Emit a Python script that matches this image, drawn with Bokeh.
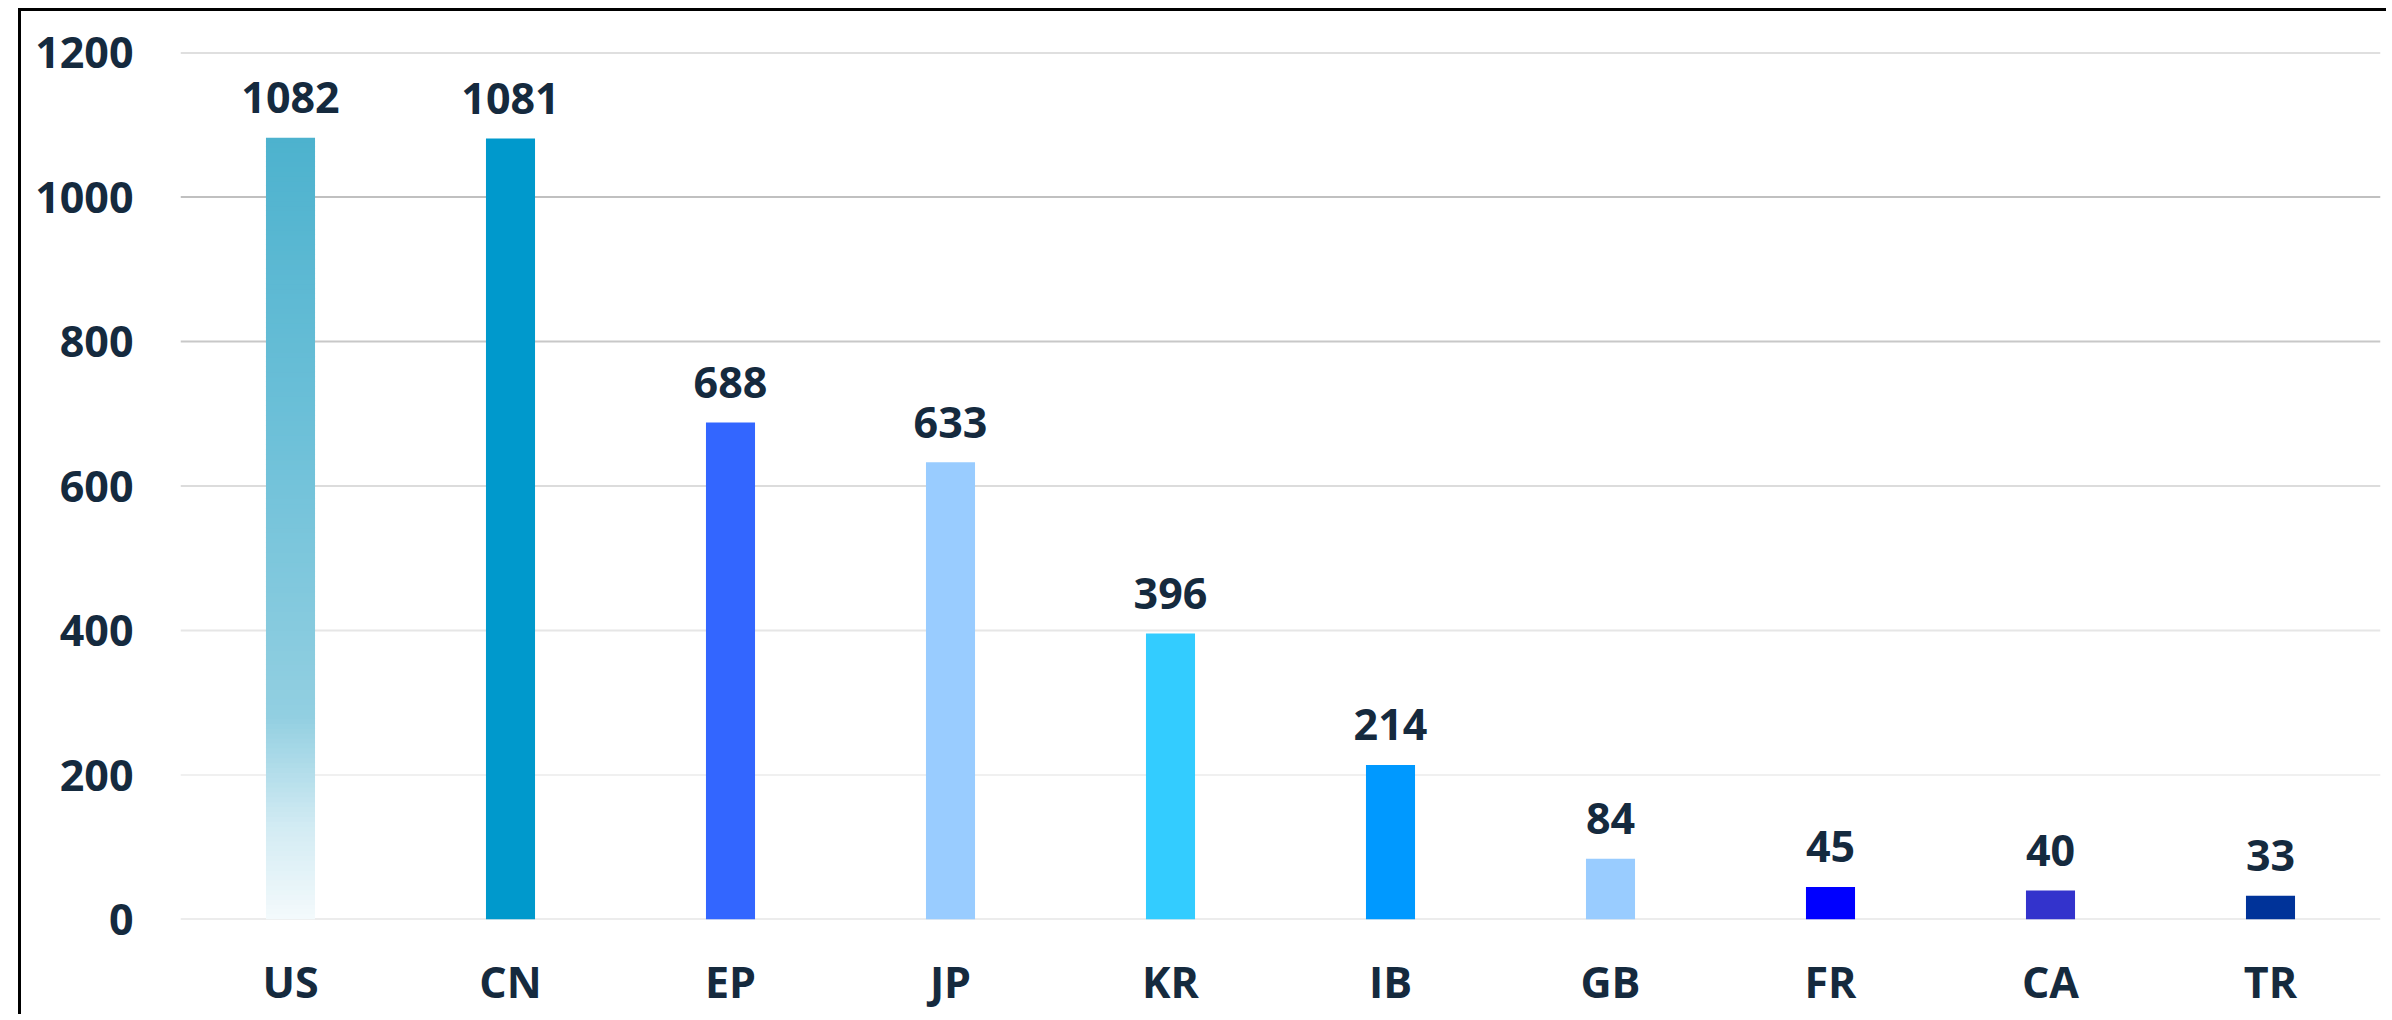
from bokeh.plotting import figure
from bokeh.models import FactorRange, Range1d, FixedTicker, Span, ColumnDataSource
from bokeh.core.properties import value
from bokeh.embed import file_html
from bokeh.resources import INLINE

# ---- data ----
categories = ["US", "CN", "EP", "JP", "KR", "IB", "GB", "FR", "CA", "TR"]
counts = [1082, 1081, 688, 633, 396, 214, 84, 45, 40, 33]
bar_colors = ["#4DB2CE", "#0099CC", "#3366FF", "#99CCFF", "#33CCFF",
              "#0099FF", "#99CCFF", "#0000FF", "#3333CC", "#003399"]
y_ticks = [0, 200, 400, 600, 800, 1000, 1200]
grid_colors = ["#D9D9D9", "#F0F0F0", "#E6E6E6", "#DCDCDC", "#C8C8C8", "#C0C0C0", "#BFBFBF"]
# gradient stops for the first bar (fraction of bar height, colour)
grad_stops = [(0.0, "#F4FAFC"), (0.12, "#D2EBF3"), (0.26, "#92CFE1"), (0.6, "#6FC1D9"), (1.0, "#4DB2CE")]

TEXT = "#152A3E"
FONT = "Open Sans"
FS = "43px"


def hex2rgb(h):
    h = h.lstrip("#")
    return tuple(int(h[i:i + 2], 16) for i in (0, 2, 4))


def grad_color(f):
    for (f0, c0), (f1, c1) in zip(grad_stops[:-1], grad_stops[1:]):
        if f0 <= f <= f1:
            t = (f - f0) / (f1 - f0) if f1 > f0 else 0
            a, b = hex2rgb(c0), hex2rgb(c1)
            return "#%02X%02X%02X" % tuple(round(a[i] + (b[i] - a[i]) * t) for i in range(3))
    return grad_stops[-1][1]


p = figure(x_range=FactorRange(factors=categories), y_range=Range1d(0, 1200),
           width=2368, height=1006, output_backend="svg", toolbar_location=None,
           min_border_left=159, min_border_right=9, min_border_top=41, min_border_bottom=98)
p.margin = (8, 0, 0, 18)
p.styles = {"border-top": "3px solid #000000", "border-left": "3px solid #000000"}

p.background_fill_color = "white"
p.border_fill_color = "white"
p.outline_line_color = None
p.xgrid.grid_line_color = None
p.ygrid.grid_line_color = None

for t, c in zip(y_ticks, grid_colors):
    p.add_layout(Span(location=t, dimension="width", line_color=c, line_width=2, level="underlay"))

W = 0.223
# gradient first bar, built from slices of its value
N = 160
v0 = counts[0]
bots = [v0 * i / N for i in range(N)]
tops = [v0 * (i + 1) / N + (0.0 if i == N - 1 else v0 * 0.002) for i in range(N)]
cols = [grad_color((i + 0.5) / N) for i in range(N)]
p.vbar(x=[categories[0]] * N, bottom=bots, top=tops, width=W, fill_color=cols, line_color=None)

src = ColumnDataSource(dict(x=categories[1:], top=counts[1:], color=bar_colors[1:]))
p.vbar(x="x", top="top", bottom=0, width=W, fill_color="color", line_color=None, source=src)

lab = ColumnDataSource(dict(x=categories, y=counts, t=[str(v) for v in counts]))
p.text(x="x", y="y", text="t", source=lab, text_align="center", text_baseline="alphabetic",
       y_offset=-40, text_font=value(FONT), text_font_style="bold", text_font_size=FS,
       text_color=TEXT)

p.yaxis.ticker = FixedTicker(ticks=y_ticks)
for ax in (p.xaxis, p.yaxis):
    ax.axis_line_color = None
    ax.major_tick_line_color = None
    ax.minor_tick_line_color = None
    ax.major_label_text_font = FONT
    ax.major_label_text_font_style = "bold"
    ax.major_label_text_font_size = FS
    ax.major_label_text_color = TEXT
p.yaxis.major_label_standoff = 41
p.xaxis.major_label_standoff = 26

open("out.html", "w").write(file_html(p, INLINE))
